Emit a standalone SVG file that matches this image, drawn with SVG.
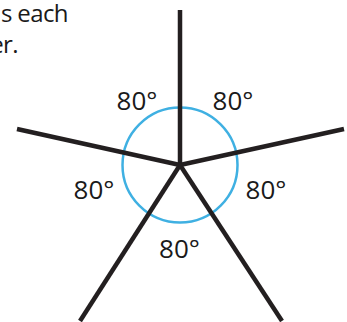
<svg xmlns="http://www.w3.org/2000/svg" width="347" height="322" viewBox="0 0 347 322">
<style>
.lbl{font-family:"Open Sans","Liberation Sans",sans-serif;font-size:26px;fill:#1a1a1a}
.cap{font-family:"Open Sans","Liberation Sans",sans-serif;font-size:24px;letter-spacing:-0.6px;fill:#1a1a1a}
.arm{stroke:#231f20;stroke-width:4.5;stroke-linecap:butt;fill:none}
</style>
<rect width="347" height="322" fill="#ffffff"/>
<g id="caption">
<text class="cap" x="68" y="22" text-anchor="end">s each</text>
<text class="cap" x="18" y="53" text-anchor="end">er.</text>
</g>
<g id="circle">
<circle cx="180" cy="165" r="57.5" fill="none" stroke="#3fb0e2" stroke-width="2.5"/>
</g>
<g id="connectors">
<line class="arm" x1="180" y1="165" x2="180" y2="10"/>
<line class="arm" x1="180" y1="165" x2="17" y2="129"/>
<line class="arm" x1="180" y1="165" x2="344" y2="129"/>
<line class="arm" x1="180" y1="165" x2="80" y2="321"/>
<line class="arm" x1="180" y1="165" x2="282" y2="321"/>
</g>
<g id="labels">
<text class="lbl" x="137" y="110" text-anchor="middle">80°</text>
<text class="lbl" x="233" y="110" text-anchor="middle">80°</text>
<text class="lbl" x="94" y="199" text-anchor="middle">80°</text>
<text class="lbl" x="266" y="199" text-anchor="middle">80°</text>
<text class="lbl" x="179.5" y="258" text-anchor="middle">80°</text>
</g>
</svg>
